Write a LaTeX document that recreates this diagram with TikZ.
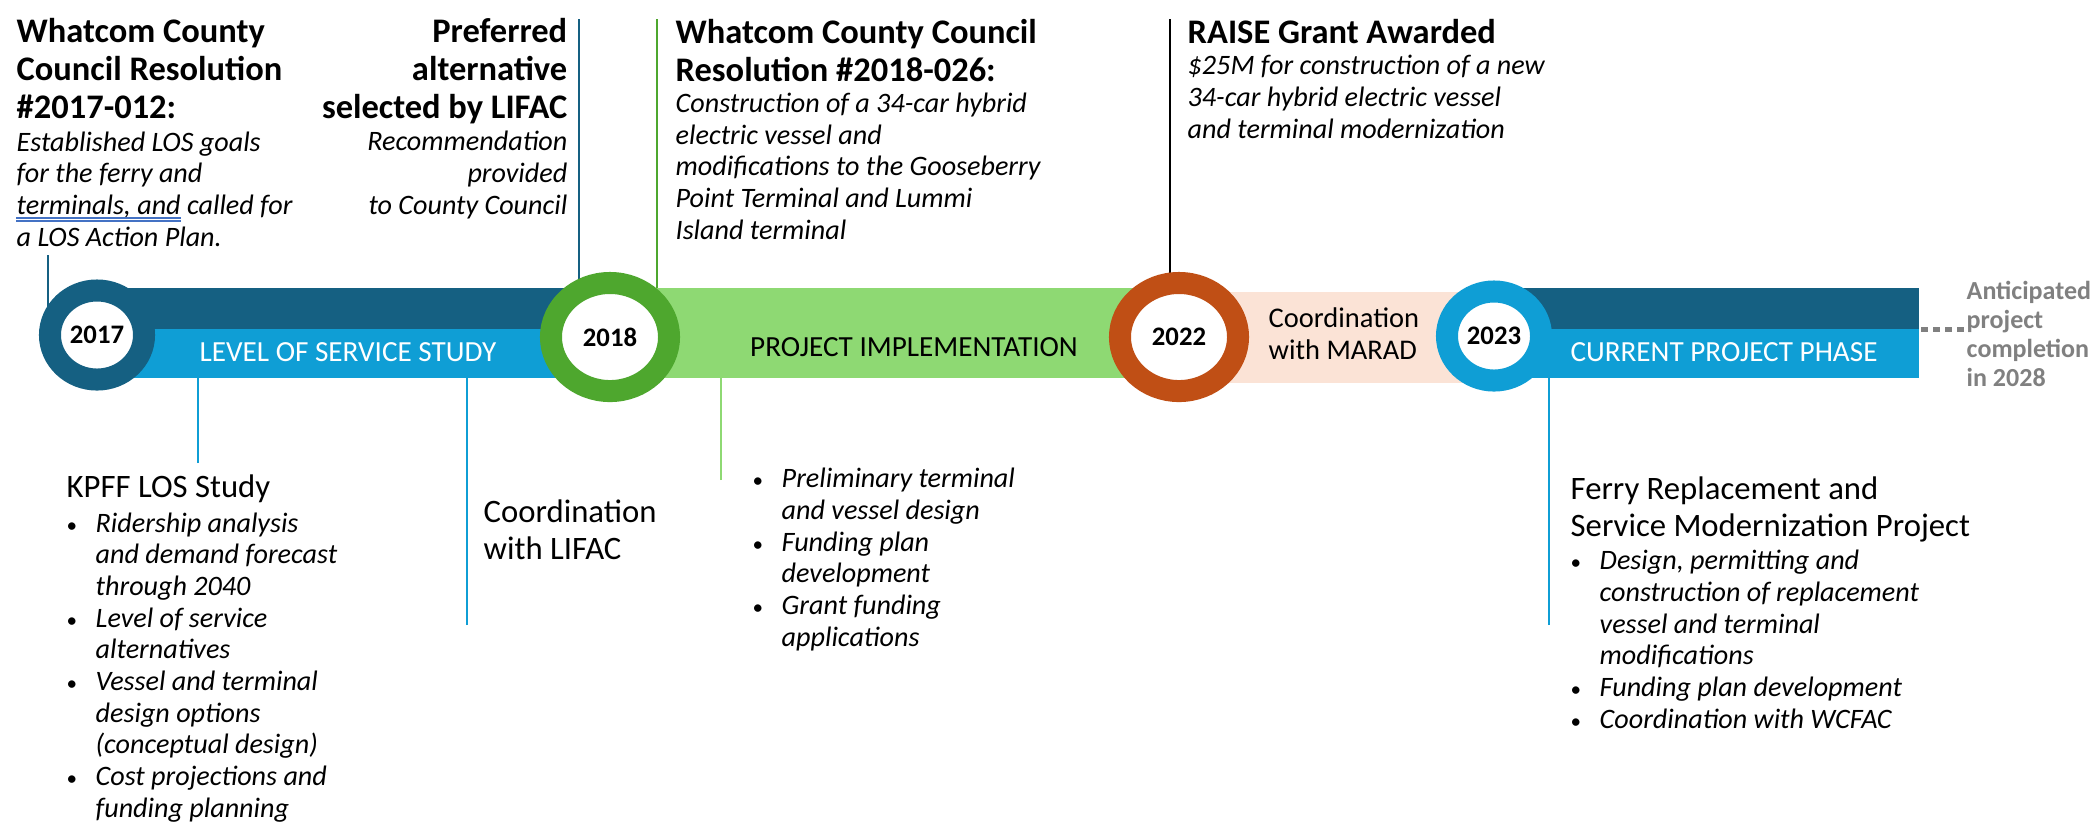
\documentclass[tikz,border=0pt]{standalone}
\usepackage{fontspec}
\setmainfont{Carlito}
\usetikzlibrary{positioning, shapes.geometric}

\definecolor{dkblue}{HTML}{156082}
\definecolor{ltblue}{HTML}{0F9ED5}
\definecolor{ringgreen}{HTML}{4EA72E}
\definecolor{ltgreen}{HTML}{8ED973}
\definecolor{ringorange}{HTML}{C04F15}
\definecolor{peach}{HTML}{FBE3D6}
\definecolor{notegray}{HTML}{808080}
\definecolor{markblue}{HTML}{4472C4}

\newcommand{\bitem}{\makebox[0.29cm][l]{\upshape\scalebox{0.75}{\textbullet}}}
\newcommand{\bcont}{\hspace*{0.29cm}}

\begin{document}
\begin{tikzpicture}[
x=0.01cm, y=-0.01cm,
ring/.style={ellipse, draw=#1, line width=0.22cm, fill=white, inner sep=0pt, font=\fontsize{7.6}{9}\selectfont\bfseries},
smallring/.style={ring=#1, minimum width=0.94cm, minimum height=0.89cm},
bigring/.style={ring=#1, minimum width=1.18cm, minimum height=1.08cm},
title/.style={inner sep=0pt, align=left, font=\fontsize{9.8}{10.7}\selectfont\bfseries},
desc/.style={inner sep=0pt, align=left, font=\fontsize{8}{9}\selectfont\itshape},
head/.style={inner sep=0pt, align=left, font=\fontsize{9.3}{10.5}\selectfont},
barlabel/.style={inner sep=0pt, font=\fontsize{8.3}{9}\selectfont},
lead/.style={line width=0.6pt}
]
\useasboundingbox (0,0) rectangle (2097,826);

% Texts above the timeline (base = last line)
\node[title, anchor=base west] (res17) at (16,118) {Whatcom County\\Council Resolution\\\#2017-012:};
\node[desc, anchor=base west] (res17txt) at (16,246) {Established LOS goals\\for the ferry and\\terminals, and called for\\a LOS Action Plan.};
\node[title, align=right, anchor=base east] (pref18) at (568,118) {Preferred\\alternative\\selected by LIFAC};
\node[desc, align=right, anchor=base east] (pref18txt) at (568,214) {Recommendation\\provided\\to County Council};
\node[title, anchor=base west] (res18) at (675,81) {Whatcom County Council\\Resolution \#2018-026:};
\node[desc, anchor=base west] (res18txt) at (675,239) {Construction of a 34-car hybrid\\electric vessel and\\modifications to the Gooseberry\\Point Terminal and Lummi\\Island terminal};
\node[title, anchor=base west] (raise) at (1187,43) {RAISE Grant Awarded};
\node[desc, anchor=base west] (raisetxt) at (1187,138) {\$25M for construction of a new\\34-car hybrid electric vessel\\and terminal modernization};

% Double underline
\draw[markblue, line width=0.35pt] (16,218) -- (181,218) (16,221) -- (181,221);

% Leaders
\coordinate (up17) at (48,255);
\coordinate (up18) at (579,19);
\coordinate (upres18) at (657,19);
\coordinate (upraise) at (1170,19);
\coordinate (dnkpff) at (198,463);
\coordinate (dnlifac) at (467,625);
\coordinate (dnimpl) at (721,480);
\coordinate (dnferry) at (1549,625);

% Timeline
\node[smallring=dkblue, draw=none, fill=none] (c17) at (97,335) {};
\node[bigring=ringgreen, draw=none, fill=none] (c18) at (610,337) {};
\node[bigring=ringorange, draw=none, fill=none] (c22) at (1179,337) {};
\node[smallring=ltblue, draw=none, fill=none] (c23) at (1494,336) {};

\draw[lead, dkblue] (up17) -- (up17 |- c17.center);
\draw[lead, dkblue] (up18) -- (up18 |- c18.center);
\draw[lead, ringgreen] (upres18) -- (upres18 |- c18.center);
\draw[lead, black] (upraise) -- (upraise |- c22.center);
\draw[lead, ltblue] (dnkpff) -- (dnkpff |- c17.center);
\draw[lead, ltblue] (dnlifac) -- (dnlifac |- c17.center);
\draw[lead, ltgreen] (dnimpl) -- (dnimpl |- c18.center);
\draw[lead, ltblue] (dnferry) -- (dnferry |- c23.center);

\fill[dkblue] (c17.center |- 0,288) rectangle (c18.center |- 0,329);
\fill[ltblue] (c17.center |- 0,329) rectangle (c18.center |- 0,378);
\fill[ltgreen] (c18.center |- 0,288) rectangle (c22.center |- 0,378);
\fill[peach] (c22.center |- 0,292) rectangle (c23.center |- 0,383);
\fill[dkblue] (c23.center |- 0,288) rectangle (1919,329);
\fill[ltblue] (c23.center |- 0,329) rectangle (1919,378);

\node[smallring=dkblue] at (c17) {2017};
\node[bigring=ringgreen] at (c18) {2018};
\node[bigring=ringorange] at (c22) {2022};
\node[smallring=ltblue] at (c23) {2023};

\node[barlabel, text=white, anchor=base] (los) at (348,361) {LEVEL OF SERVICE STUDY};
\node[barlabel, anchor=base] (impl) at (914,356) {PROJECT IMPLEMENTATION};
\node[barlabel, text=white, anchor=base] (cur) at (1724,361) {CURRENT PROJECT PHASE};
\node[head, font=\fontsize{8.1}{9.1}\selectfont, anchor=base west] (marad) at (1268,359) {Coordination\\with MARAD};

% Completion note
\node[inner sep=0pt, align=left, text=notegray, font=\fontsize{7.4}{8.2}\selectfont\bfseries, anchor=base west] (done) at (1966,386) {Anticipated\\project\\completion\\in 2028};
\coordinate (barend) at (1921,329);
\draw[notegray, line width=0.05cm, dash pattern=on 0.07cm off 0.05cm] (barend) -- (barend -| done.west);

% Texts below the timeline
\node[head, anchor=base west] (kpff) at (66,497) {KPFF LOS Study};
\node[desc, anchor=base west] (kpfftxt) at (66,817) {\bitem Ridership analysis\\\bcont and demand forecast\\\bcont through 2040\\\bitem Level of service\\\bcont alternatives\\\bitem Vessel and terminal\\\bcont design options\\\bcont (conceptual design)\\\bitem Cost projections and\\\bcont funding planning};
\node[head, anchor=base west] (lifac) at (483,559) {Coordination\\with LIFAC};
\node[desc, anchor=base west] (impltxt) at (752,646) {\bitem Preliminary terminal\\\bcont and vessel design\\\bitem Funding plan\\\bcont development\\\bitem Grant funding\\\bcont applications};
\node[head, anchor=base west] (ferry) at (1570,536) {Ferry Replacement and\\Service Modernization Project};
\node[desc, anchor=base west] (ferrytxt) at (1570,728) {\bitem Design, permitting and\\\bcont construction of replacement\\\bcont vessel and terminal\\\bcont modifications\\\bitem Funding plan development\\\bitem Coordination with WCFAC};

\end{tikzpicture}
\end{document}
